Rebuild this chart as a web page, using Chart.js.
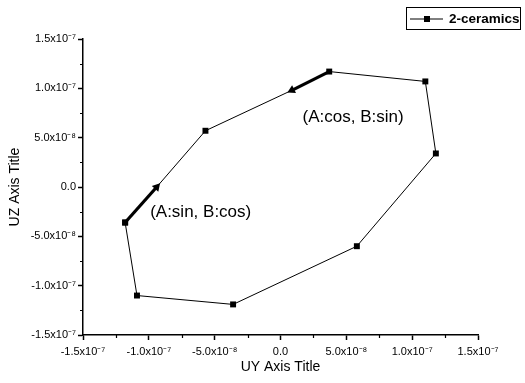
<!DOCTYPE html>
<html lang="en">
<head>
<meta charset="UTF-8" />
<title>2-ceramics</title>
<script src="https://cdn.jsdelivr.net/npm/chart.js"></script>
<style>
  html, body { margin: 0; padding: 0; background: #fff; }
  #wrap { width: 525px; height: 383px; }
</style>
</head>
<body>
<div id="wrap"><canvas id="chart" width="525" height="383"></canvas></div>
<script>
// loop, in drawing order; the last point closes it
const uy = [-1.18e-7, -1.09e-7, -3.6e-8, 5.8e-8, 1.18e-7, 1.10e-7, 3.7e-8, 8.6e-9, -5.7e-8, -9.4e-8, -1.18e-7];
const uz = [-3.6e-8, -1.10e-7, -1.19e-7, -6.0e-8, 3.4e-8, 1.07e-7, 1.17e-7, 9.8e-8, 5.7e-8, 0.0, -3.6e-8];
// [from, to] index pairs of the thick arrows; "to" has no square marker
const arrows = [[0, 9], [6, 7]];

const noteText = ['(A:sin, B:cos)', '(A:cos, B:sin)'];
const noteX = [-9.9e-8, 1.68e-8];
const noteY = [-2.6e-8, 7.05e-8];

const xTicks = [-1.5e-7, -1.0e-7, -5.0e-8, 0, 5.0e-8, 1.0e-7, 1.5e-7];
const xTickLabels = ['-1.5x10⁻⁷', '-1.0x10⁻⁷', '-5.0x10⁻⁸', '0.0', '5.0x10⁻⁸', '1.0x10⁻⁷', '1.5x10⁻⁷'];
const yTicks = [-1.5e-7, -1.0e-7, -5.0e-8, 0, 5.0e-8, 1.0e-7, 1.5e-7];
const yTickLabels = ['-1.5x10⁻⁷', '-1.0x10⁻⁷', '-5.0x10⁻⁸', '0.0', '5.0x10⁻⁸', '1.0x10⁻⁷', '1.5x10⁻⁷'];
const xMinor = [-1.25e-7, -7.5e-8, -2.5e-8, 2.5e-8, 7.5e-8, 1.25e-7];
const yMinor = [-1.25e-7, -7.5e-8, -2.5e-8, 2.5e-8, 7.5e-8, 1.25e-7];

const FONT = "'Liberation Sans', Arial, sans-serif";
const tips = arrows.map(a => a[1]);

function arrowAngle(chart, a, b) {
  const xs = chart.scales.x, ys = chart.scales.y;
  if (!xs || !ys) return 0;
  const dx = xs.getPixelForValue(uy[b]) - xs.getPixelForValue(uy[a]);
  const dy = ys.getPixelForValue(uz[b]) - ys.getPixelForValue(uz[a]);
  return Math.atan2(dx, -dy) * 180 / Math.PI;
}

const datasets = [{
  label: '2-ceramics',
  data: uy.map((v, i) => ({x: v, y: uz[i]})),
  showLine: true,
  borderColor: '#000',
  backgroundColor: '#000',
  borderWidth: 1,
  pointStyle: 'rect',
  pointRadius: uy.map((v, i) => tips.includes(i) ? 0 : 4.2),
  pointBorderWidth: 0
}];
arrows.forEach(([a, b]) => {
  datasets.push({
    label: 'arrow',
    data: [{x: uy[a], y: uz[a]}, {x: uy[b], y: uz[b]}],
    showLine: true,
    borderColor: '#000',
    backgroundColor: '#000',
    borderWidth: 3.2,
    pointStyle: 'triangle',
    pointRadius: [0, 5],
    pointBorderWidth: 0,
    rotation: (ctx) => arrowAngle(ctx.chart, a, b)
  });
});

const extras = {
  id: 'extras',
  afterDraw(chart) {
    const ctx = chart.ctx, xs = chart.scales.x, ys = chart.scales.y;
    ctx.save();
    ctx.strokeStyle = '#000';
    ctx.lineWidth = 1.2;
    ctx.beginPath();
    xMinor.forEach(v => {
      const p = Math.round(xs.getPixelForValue(v)) + 0.5;
      ctx.moveTo(p, ys.bottom); ctx.lineTo(p, ys.bottom + 3);
    });
    yMinor.forEach(v => {
      const p = Math.round(ys.getPixelForValue(v)) + 0.5;
      ctx.moveTo(xs.left - 3, p); ctx.lineTo(xs.left, p);
    });
    ctx.stroke();

    // notes
    ctx.fillStyle = '#000';
    ctx.font = '17px ' + FONT;
    ctx.textBaseline = 'middle';
    ctx.textAlign = 'left';
    noteText.forEach((t, i) => {
      ctx.fillText(t, xs.getPixelForValue(noteX[i]), ys.getPixelForValue(noteY[i]));
    });

    // legend box
    ctx.lineWidth = 1;
    ctx.strokeRect(406.5, 7.5, 114, 22);
    ctx.beginPath();
    ctx.moveTo(410, 19); ctx.lineTo(443, 19);
    ctx.stroke();
    ctx.fillRect(424, 16, 6, 6);
    ctx.font = 'bold 13.5px ' + FONT;
    ctx.fillText('2-ceramics', 449, 19);
    ctx.restore();
  }
};

new Chart(document.getElementById('chart'), {
  type: 'scatter',
  data: { datasets },
  plugins: [extras],
  options: {
    responsive: false,
    animation: false,
    devicePixelRatio: 1,
    layout: { padding: { top: 39, right: 47, left: 0, bottom: 0 } },
    plugins: { legend: { display: false }, tooltip: { enabled: false } },
    scales: {
      x: {
        type: 'linear',
        min: -1.5e-7,
        max: 1.5e-7,
        afterBuildTicks: (scale) => { scale.ticks = xTicks.map(v => ({value: v})); },
        afterFit: (scale) => { scale.height = 48; },
        ticks: {
          color: '#000',
          font: { family: FONT, size: 11 },
          padding: 5,
          maxRotation: 0,
          autoSkip: false,
          callback: (v, i) => xTickLabels[i]
        },
        grid: { drawOnChartArea: false, drawTicks: true, tickLength: 5, tickColor: '#000', tickWidth: 1.5 },
        border: { display: true, color: '#000', width: 1.5 },
        title: {
          display: true,
          text: 'UY Axis Title',
          color: '#000',
          font: { family: FONT, size: 14 },
          padding: { top: 0, bottom: 7 }
        }
      },
      y: {
        type: 'linear',
        min: -1.5e-7,
        max: 1.5e-7,
        afterBuildTicks: (scale) => { scale.ticks = yTicks.map(v => ({value: v})); },
        afterFit: (scale) => { scale.width = 83; },
        ticks: {
          color: '#000',
          font: { family: FONT, size: 11 },
          padding: 2,
          autoSkip: false,
          callback: (v, i) => yTickLabels[i]
        },
        grid: { drawOnChartArea: false, drawTicks: true, tickLength: 5, tickColor: '#000', tickWidth: 1.5 },
        border: { display: true, color: '#000', width: 1.5 },
        title: {
          display: true,
          text: 'UZ Axis Title',
          color: '#000',
          font: { family: FONT, size: 14 },
          padding: { top: 7, bottom: 0 }
        }
      }
    }
  }
});
</script>
</body>
</html>
